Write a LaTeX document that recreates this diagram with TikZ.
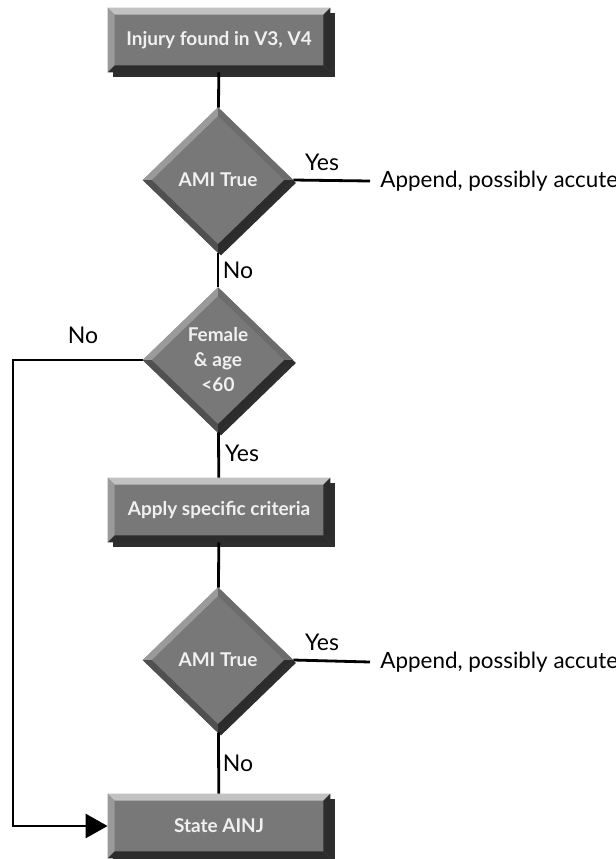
\documentclass[tikz,border=0pt]{standalone}
\usepackage{fontspec}
\setmainfont{Lato}
\usetikzlibrary{shapes.geometric,shadows,calc,arrows.meta}

\definecolor{facegray}{HTML}{787878}
\definecolor{lightedge}{HTML}{C2C2C2}
\definecolor{sideedge}{HTML}{9A9A9A}
\definecolor{darkedge}{HTML}{2C2C2C}
\definecolor{midedge}{HTML}{6C6C6C}
\definecolor{lowedge}{HTML}{505050}
\definecolor{shadowgray}{HTML}{2E2E2E}
\definecolor{facetext}{HTML}{F0F0F0}

\tikzset{
  flowbox/.style={rectangle, fill=facegray, minimum width=111pt, minimum height=32pt,
    inner sep=0pt, text=facetext, font=\fontsize{9.5}{12}\selectfont\bfseries,
    drop shadow={shadow xshift=2.5pt, shadow yshift=-2.5pt, fill=shadowgray, opacity=1}},
  decision/.style={diamond, fill=facegray, minimum width=75pt, minimum height=72.5pt,
    inner sep=0pt, align=center, text=facetext, font=\fontsize{9.5}{12.5}\selectfont\bfseries,
    drop shadow={shadow xshift=1.5pt, shadow yshift=-1.5pt, fill=shadowgray, opacity=1}},
  flowline/.style={line width=1.4pt},
  answer/.style={font=\fontsize{11.5}{13}\selectfont, inner sep=0pt},
  outcome/.style={font=\fontsize{11.2}{13}\selectfont, anchor=west, inner sep=0pt, inner xsep=5pt}
}

% bevelled edges of a box: light top and left, dark bottom and right
\newcommand{\boxbevel}[1]{%
  \fill[lightedge] (#1.north west) -- (#1.north east) -- ($(#1.north east)+(-3.5pt,-3.5pt)$) -- ($(#1.north west)+(3.5pt,-3.5pt)$) -- cycle;
  \fill[sideedge] (#1.north west) -- ($(#1.north west)+(3.5pt,-3.5pt)$) -- ($(#1.south west)+(3.5pt,3.5pt)$) -- (#1.south west) -- cycle;
  \fill[darkedge] (#1.south west) -- ($(#1.south west)+(3.5pt,3.5pt)$) -- ($(#1.south east)+(-3.5pt,3.5pt)$) -- (#1.south east) -- cycle;
  \fill[darkedge] (#1.north east) -- (#1.south east) -- ($(#1.south east)+(-3.5pt,3.5pt)$) -- ($(#1.north east)+(-3.5pt,-3.5pt)$) -- cycle;
}

% bevelled edges of a diamond, one shade per side
\newcommand{\diamondbevel}[1]{%
  \coordinate (#1in n) at ($(#1.center)!0.88!(#1.north)$);
  \coordinate (#1in s) at ($(#1.center)!0.88!(#1.south)$);
  \coordinate (#1in e) at ($(#1.center)!0.88!(#1.east)$);
  \coordinate (#1in w) at ($(#1.center)!0.88!(#1.west)$);
  \fill[sideedge] (#1.west) -- (#1.north) -- (#1in n) -- (#1in w) -- cycle;
  \fill[midedge] (#1.north) -- (#1.east) -- (#1in e) -- (#1in n) -- cycle;
  \fill[lowedge] (#1.west) -- (#1.south) -- (#1in s) -- (#1in w) -- cycle;
  \fill[darkedge] (#1.east) -- (#1.south) -- (#1in s) -- (#1in e) -- cycle;
}

\begin{document}
\begin{tikzpicture}[x=0.5pt, y=-0.5pt]
  \useasboundingbox (0,0) rectangle (616,859);

  % Boxes and decisions down the middle
  \node[flowbox] (injury) at (219,40) {Injury found in V3, V4};
  \node[decision] (ami1) at (218,180) {AMI True};
  \node[decision] (female) at (218,360) {Female\\\& age\\<60};
  \node[flowbox] (criteria) at (219,510) {Apply specific criteria};
  \node[decision] (ami2) at (218,660) {AMI True};
  \node[flowbox] (ainj) at (219,826) {State AINJ};

  \boxbevel{injury}
  \boxbevel{criteria}
  \boxbevel{ainj}
  \diamondbevel{ami1}
  \diamondbevel{female}
  \diamondbevel{ami2}

  % Outcomes on the right
  \node[outcome] (append1) at (370,181) {Append, possibly accute};
  \node[outcome] (append2) at (370,662) {Append, possibly accute};

  % Connectors
  \draw[flowline] (injury) -- (ami1);
  \draw[flowline] (ami1) -- (female);
  \draw[flowline] (female) -- (criteria);
  \draw[flowline] (criteria) -- (ami2);
  \draw[flowline] (ami2) -- (ainj);
  \draw[flowline] (ami1.east) -- (append1.west);
  \draw[flowline] (ami2.east) -- (append2.west);

  % Loop from the female test back to the last box
  \coordinate (loop) at (13,360);
  \draw[flowline, -{Triangle[length=11pt, width=12pt]}] (female.west) -- (loop) |- (ainj.west);

  % Answer labels
  \node[answer] (yes1) at (322,162) {Yes};
  \node[answer] (no1) at (238,270) {No};
  \node[answer] (no2) at (83,335) {No};
  \node[answer] (yes2) at (242,453) {Yes};
  \node[answer] (yes3) at (322,642) {Yes};
  \node[answer] (no3) at (238,763) {No};
\end{tikzpicture}
\end{document}
